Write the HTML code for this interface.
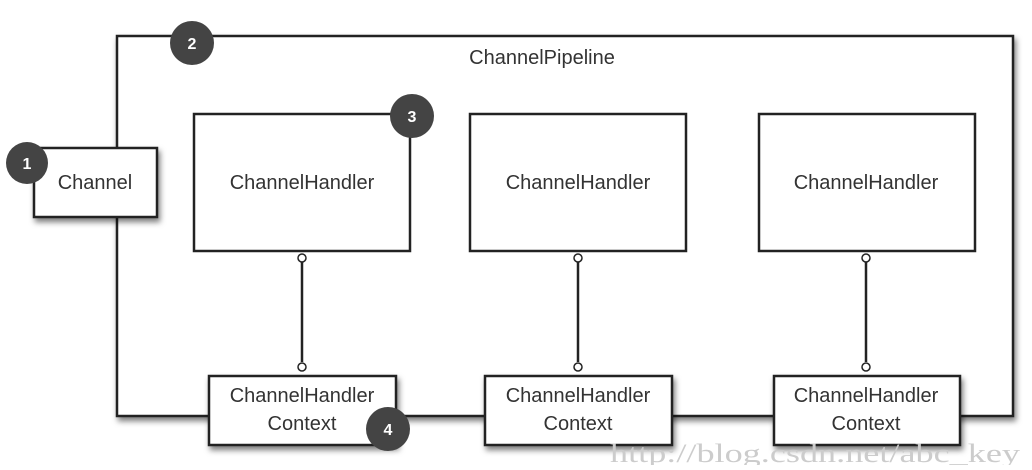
<!DOCTYPE html><html><head><style>body{margin:0;background:#fff}</style></head><body>
<svg width="1032" height="465" xmlns="http://www.w3.org/2000/svg" font-family="Liberation Sans, sans-serif">
<defs><filter id="s" x="-10%" y="-10%" width="130%" height="130%"><feDropShadow dx="2" dy="4" stdDeviation="3" flood-opacity="0.5"/></filter></defs>
<g fill="#fff" stroke="#222" stroke-width="2.5">
<rect x="117" y="36" width="896" height="380" filter="url(#s)"/>
<rect x="34" y="148" width="123" height="69" filter="url(#s)"/>
<rect x="194" y="114" width="216" height="137"/>
<rect x="470" y="114" width="216" height="137"/>
<rect x="759" y="114" width="216" height="137"/>
<line x1="302" y1="262" x2="302" y2="362"/><line x1="578" y1="262" x2="578" y2="362"/><line x1="866" y1="262" x2="866" y2="362"/>
<g stroke-width="1.5"><circle cx="302" cy="258" r="4"/><circle cx="302" cy="367" r="4"/><circle cx="578" cy="258" r="4"/><circle cx="578" cy="367" r="4"/><circle cx="866" cy="258" r="4"/><circle cx="866" cy="367" r="4"/></g>
<rect x="209" y="376" width="187" height="69" filter="url(#s)"/>
<rect x="485" y="376" width="187" height="69" filter="url(#s)"/>
<rect x="774" y="376" width="186" height="69" filter="url(#s)"/>
</g>
<g fill="#444"><circle cx="27" cy="163" r="21"/><circle cx="192" cy="43" r="22"/><circle cx="412" cy="116" r="22"/><circle cx="388" cy="429" r="22"/></g>
<g fill="#fff" font-weight="bold" font-size="16" text-anchor="middle"><text x="27" y="169">1</text><text x="192" y="49">2</text><text x="412" y="122">3</text><text x="388" y="435">4</text></g>
<g fill="#333" font-size="20" text-anchor="middle">
<text x="542" y="64">ChannelPipeline</text>
<text x="95" y="189">Channel</text>
<text x="302" y="189">ChannelHandler</text><text x="578" y="189">ChannelHandler</text><text x="866" y="189">ChannelHandler</text>
<text x="302" y="402">ChannelHandler</text><text x="302" y="430">Context</text>
<text x="578" y="402">ChannelHandler</text><text x="578" y="430">Context</text>
<text x="866" y="402">ChannelHandler</text><text x="866" y="430">Context</text>
</g>
<text x="610" y="462" fill="#ccc" font-family="Liberation Serif, serif" font-size="26" textLength="410" lengthAdjust="spacingAndGlyphs">http://blog.csdn.net/abc_key</text>
</svg></body></html>
